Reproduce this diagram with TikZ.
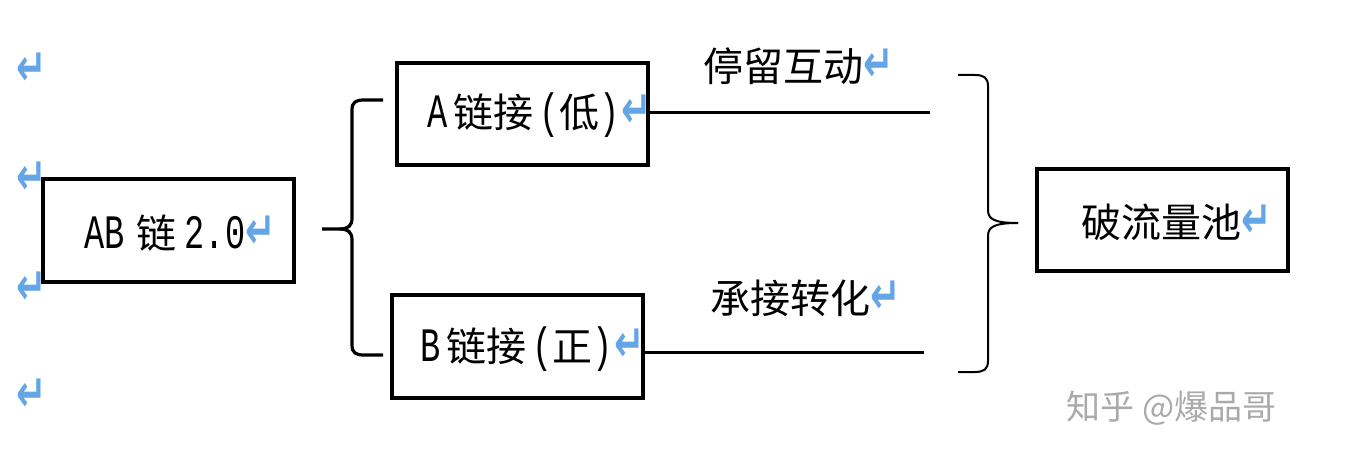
\documentclass[tikz,border=0pt]{standalone}
\usepackage{fontspec}
\setmainfont{Noto Sans CJK SC}
\newfontfamily\cjk{Noto Sans CJK SC}
\newfontfamily\lat[FakeStretch=0.7]{Liberation Mono}
\newfontfamily\retfont[FakeStretch=0.7]{DejaVu Sans Bold}
\definecolor{retblue}{RGB}{100,165,230}
\definecolor{wmgray}{RGB}{170,170,170}
\newcommand\myret{{\retfont\fontsize{26}{26}\selectfont\color{retblue}↵}}
\newcommand\lt[1]{{\lat\fontsize{24}{24}\selectfont #1}}
\begin{document}
\begin{tikzpicture}[x=0.5pt,y=-0.5pt,
  box/.style={draw, line width=2pt, minimum width=125.5pt, minimum height=51.5pt, inner sep=0pt},
  txt/.style={font=\cjk\fontsize{20}{20}\selectfont, inner sep=0pt, anchor=west},
  conn/.style={line width=1.5pt},
  bracel/.style={line width=1.6pt},
  bracer/.style={line width=1pt},
  retmark/.style={inner sep=0pt}]
\useasboundingbox[fill=white] (0,0) rectangle (1352,464);

% boxes
\node[box] (AB) at (168.5,230.5) {};
\node[box, minimum height=51pt] (A) at (522.5,114) {};
\node[box] (B) at (517.5,346.5) {};
\node[box, minimum height=51pt] (P) at (1162.5,220) {};

% box texts
\node[txt] (tAB) at (84,233) {\lt{AB}\hspace{6pt}链\hspace{4pt}\lt{2.0}\myret};
\node[txt] (tA) at (427,115) {\lt{A}\hspace{3pt}链接\hspace{3pt}\lt{(}低\lt{)}\hspace{1pt}\myret};
\node[txt] (tB) at (420,349) {\lt{B}\hspace{3pt}链接\hspace{3pt}\lt{(}正\lt{)}\hspace{1pt}\myret};
\node[txt] (tP) at (1081,222) {破流量池\myret};

% labels above lines
\node[txt] (l1) at (703,66) {停留互动\myret};
\node[txt] (l2) at (710,298) {承接转化\myret};

% connectors
\coordinate (eA) at (930,113);
\coordinate (eB) at (924,352);
\draw[conn] (A.east |- eA) -- (eA);
\draw[conn] (B.east |- eB) -- (eB);

% left brace
\draw[bracel] (322,229) -- (340,229) .. controls (348,229) and (352,226) .. (352,218)
  -- (352,110) .. controls (352,102) and (356,100) .. (364,100) -- (383,100);
\draw[bracel] (340,229) .. controls (348,229) and (352,232) .. (352,240)
  -- (352,345) .. controls (352,353) and (356,355) .. (364,355) -- (383,355);

% right brace
\draw[bracer] (958,75) -- (975,75) .. controls (984,75) and (988,78) .. (988,86)
  -- (988,210) .. controls (988,219) and (994,223) .. (1018,223);
\draw[bracer] (958,372) -- (975,372) .. controls (984,372) and (988,369) .. (988,361)
  -- (988,236) .. controls (988,227) and (994,223) .. (1018,223);

% paragraph marks on the left
\node[retmark] (r1) at (32,69) {\myret};
\node[retmark] (r2) at (32,178) {\myret};
\node[retmark] (r3) at (32,288) {\myret};
\node[retmark] (r4) at (32,395) {\myret};

% watermark
\node[inner sep=0pt, anchor=west, text=wmgray, font=\cjk\fontsize{17}{17}\selectfont] (wm) at (1066,408) {知乎 @爆品哥};
\end{tikzpicture}
\end{document}
